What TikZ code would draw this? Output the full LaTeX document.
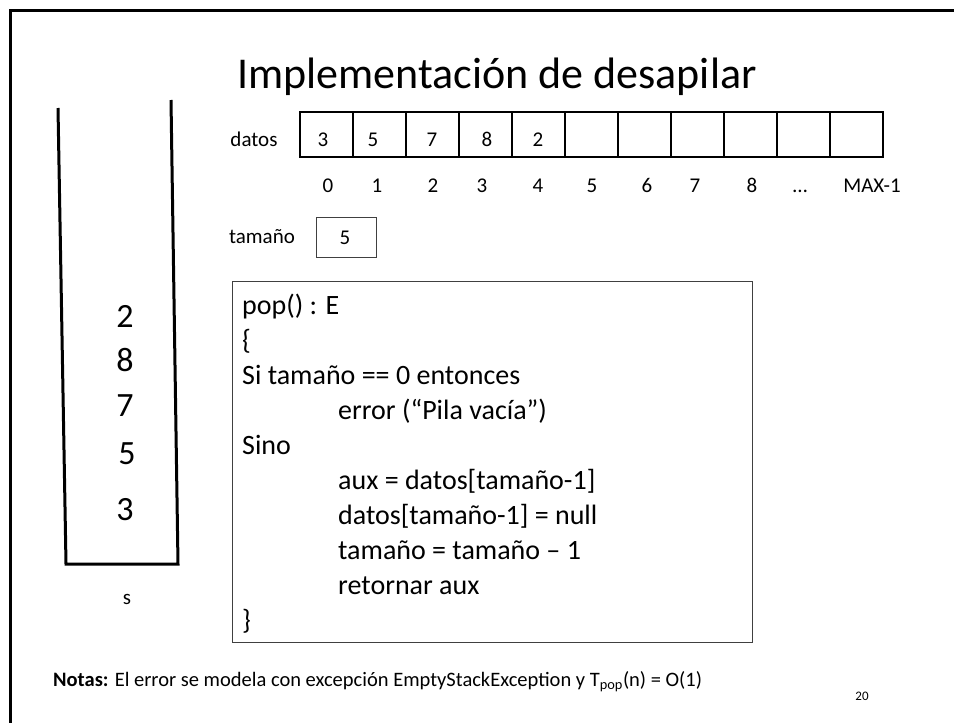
\documentclass[tikz,border=0pt]{standalone}
\usepackage{fontspec}
\setmainfont{Carlito}
\begin{document}
\begin{tikzpicture}[x=1pt,y=-1pt,
  cell/.style={draw, line width=1.8pt, minimum width=53pt, minimum height=45pt, inner sep=0pt},
  lbl/.style={inner sep=0pt, font=\fontsize{21}{25}\selectfont},
  basel/.style={lbl, anchor=base},
  stacknum/.style={inner sep=0pt, anchor=base, font=\fontsize{34}{39}\selectfont},
  codeline/.style={anchor=base west, inner sep=0pt, font=\fontsize{28}{34}\selectfont},
  thinbox/.style={draw=black!75, line width=0.9pt, inner sep=0pt},
  thickline/.style={line width=3pt}]
\useasboundingbox (0,0) rectangle (954,723);
% frame
\coordinate (fb) at (10,723);
\coordinate (ftl) at (10,10);
\coordinate (ftr) at (954,10);
\draw[thickline] (fb) -- (ftl) -- (ftr);
% title
\node[anchor=base, inner sep=0pt, font=\fontsize{44}{50}\selectfont] (title) at (497,88) {Implementación de desapilar};
% stack
\coordinate (sl1) at (58,108);
\coordinate (sl2) at (66,564);
\coordinate (sr2) at (178,564);
\coordinate (sr1) at (171,100);
\draw[thickline] (sl1) -- (sl2) -- (sr2) -- (sr1);
\node[stacknum] (s2) at (125,327) {2};
\node[stacknum] (s8) at (125,371) {8};
\node[stacknum] (s7) at (125,416) {7};
\node[stacknum] (s5) at (127,464) {5};
\node[stacknum] (s3) at (125,520) {3};
\node[basel] (sname) at (127,604) {s};
% array
\node[lbl] (datos) at (254,139) {datos};
\foreach \i in {0,...,10} {
  \node[cell] (c\i) at ({326.5+53*\i},134.5) {};
}
\foreach \x/\v in {323/3,373/5,432/7,487/8,538/2} {
  \node[basel] at (\x,146) {\v};
}
\foreach \i/\x/\t in {0/328/0,1/377/1,2/433/2,3/482/3,4/538/4,5/592/5,6/647/6,7/695/7,8/752/8,9/800/…,10/872/MAX-1} {
  \node[basel] (idx\i) at (\x,192) {\t};
}
% tamaño
\node[lbl] (tamlbl) at (262,237) {tamaño};
\node[thinbox, minimum width=60pt, minimum height=40pt] (tambox) at (346,237) {};
\node[basel] (tamval) at (345,244) {5};
% code box
\node[thinbox, minimum width=520pt, minimum height=361pt] (code) at (492,461.5) {};
\node[codeline] (l1) at (242,314) {pop() : E};
\node[codeline] (l2) at (242,349) {\{};
\node[codeline] (l3) at (242,384) {Si tamaño == 0 entonces};
\node[codeline] (l4) at (338,419) {error (“Pila vacía”)};
\node[codeline] (l5) at (242,454) {Sino};
\node[codeline] (l6) at (338,489) {aux = datos[tamaño-1]};
\node[codeline] (l7) at (338,524) {datos[tamaño-1] = null};
\node[codeline] (l8) at (338,559) {tamaño = tamaño – 1};
\node[codeline] (l9) at (338,594) {retornar aux};
\node[codeline] (l10) at (242,629) {\}};
% notes
\node[anchor=west, inner sep=0pt, font=\fontsize{20.5}{24}\selectfont] (notas) at (53,682) {\textbf{Notas:} El error se modela con excepción EmptyStackException y T\textsubscript{pop}(n) = O(1)};
\node[inner sep=0pt, font=\fontsize{13}{16}\selectfont] (page) at (862,696) {20};
\end{tikzpicture}
\end{document}
